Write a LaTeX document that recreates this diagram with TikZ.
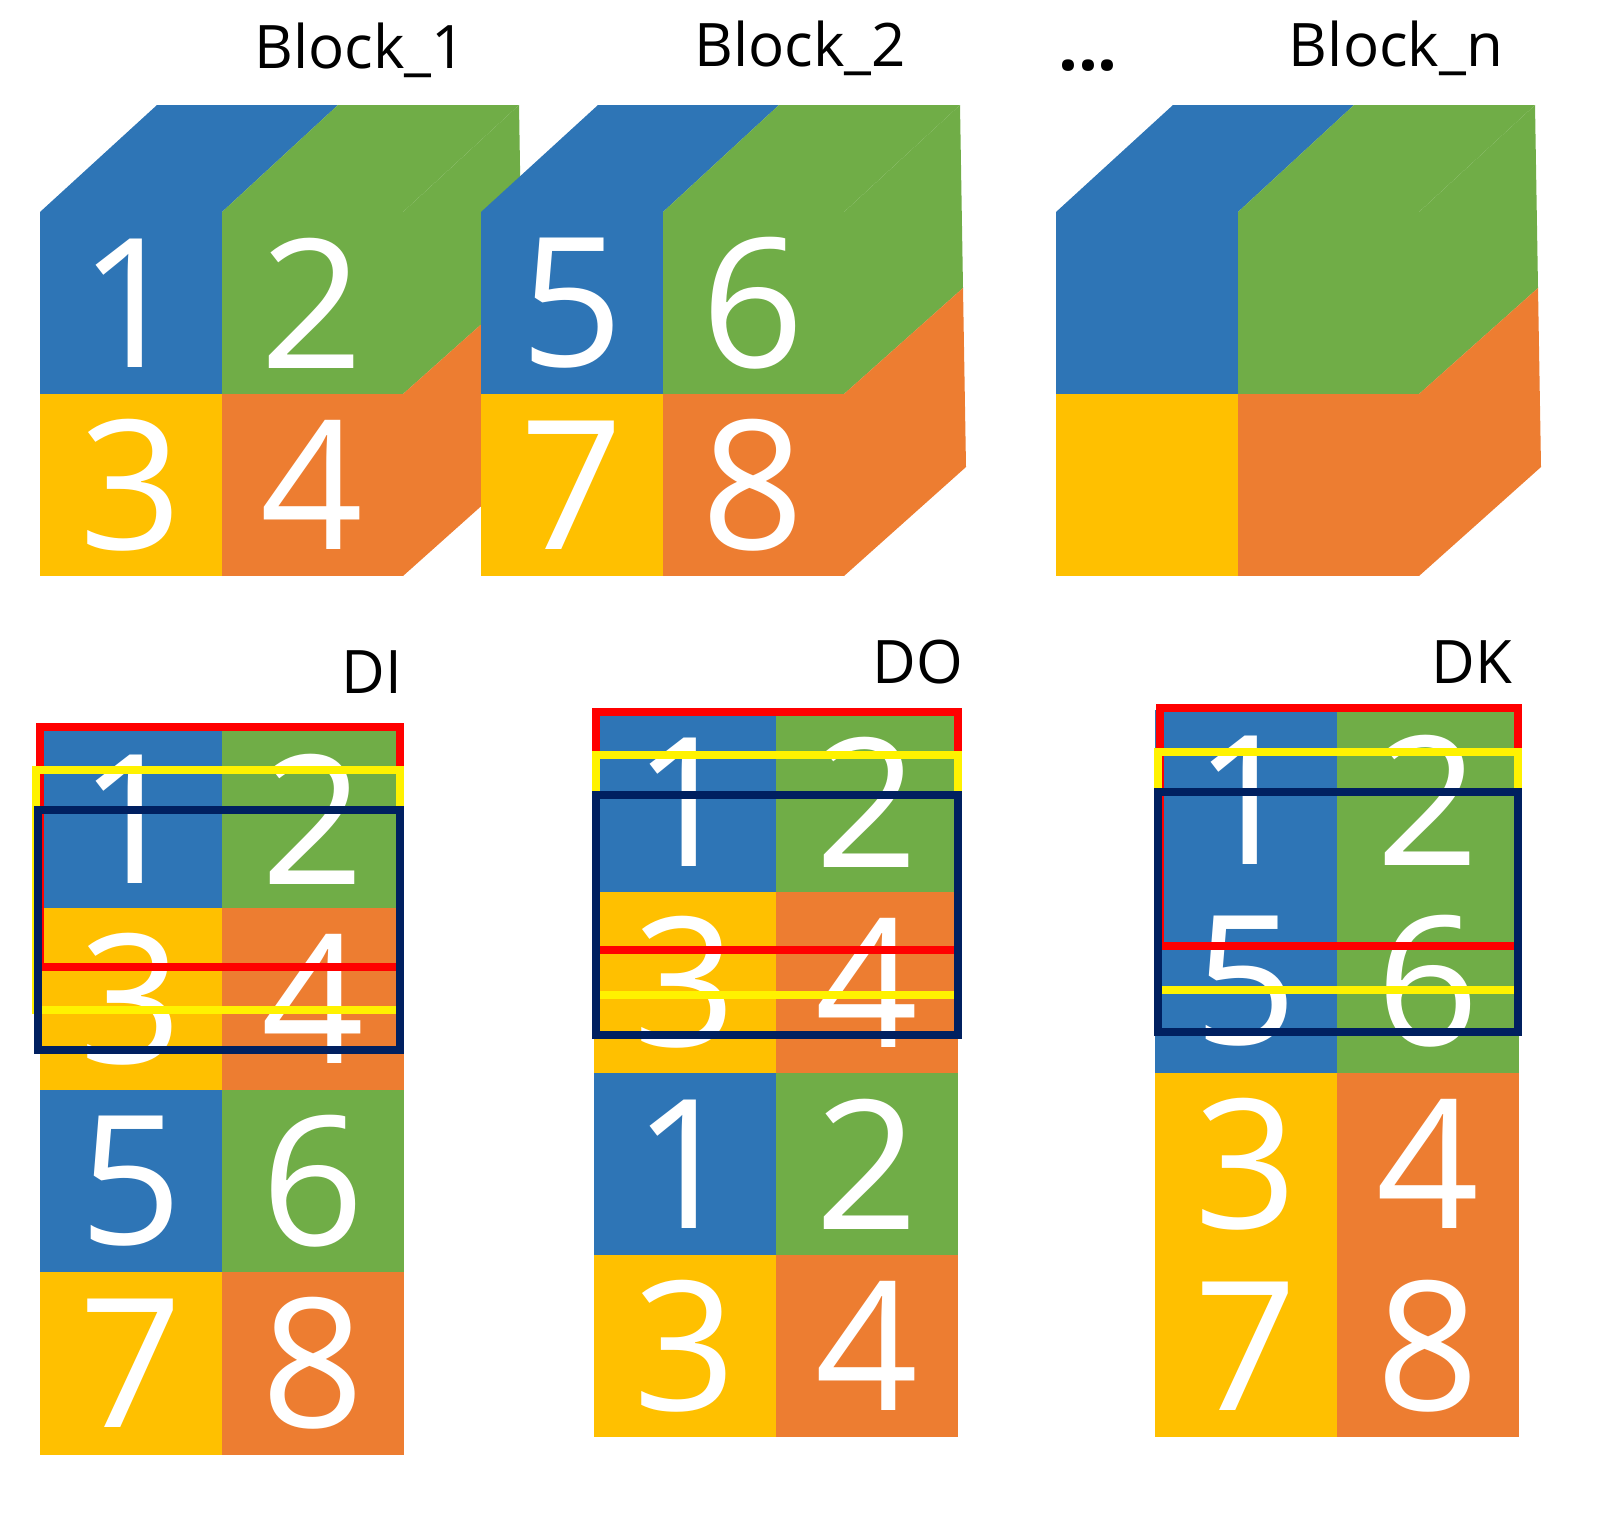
\documentclass[tikz,border=0pt]{standalone}
\usepackage{fontspec}
\setmainfont{Open Sans}
\begin{document}
\begin{tikzpicture}[x=1pt,y=-1pt,
  dig/.style={text=white,font=\fontsize{180}{180}\selectfont,inner sep=0pt},
  lbl/.style={font=\fontsize{60}{60}\selectfont,inner sep=0pt},
  fr/.style={line width=8pt}]
\definecolor{cb}{HTML}{2E75B6}\definecolor{cg}{HTML}{70AD47}
\definecolor{cy}{HTML}{FFC000}\definecolor{co}{HTML}{ED7D31}
\definecolor{nv}{HTML}{002060}
\useasboundingbox (0,0) rectangle (1600,1513);
% cubes
\foreach \dx/\a/\b/\c/\d/\rx in {0/1/2/3/4/519, 441/5/6/7/8/963, 1016//// /1538}{
  \begin{scope}[xshift=\dx]
  \fill[cg] (403,212) -- (519,105) -- (522,288) -- (403,394) -- cycle;
  \fill[co] (403,394) -- (522,288) -- (525,467) -- (403,576) -- cycle;
  \fill[cb] (40,212) -- (157,105) -- (338,105) -- (222,212) -- cycle;
  \fill[cg] (222,212) -- (338,105) -- (519,105) -- (403,212) -- cycle;
  \fill[cb] (40,212) rectangle (222,394);
  \fill[cg] (222,212) rectangle (403,394);
  \fill[cy] (40,394) rectangle (222,576);
  \fill[co] (222,394) rectangle (403,576);
  \node[dig] (t\dx a) at (131,303) {\a};
  \node[dig] (t\dx b) at (312,303) {\b};
  \node[dig] (t\dx c) at (131,485) {\c};
  \node[dig] (t\dx d) at (312,485) {\d};
  \end{scope}}
\node[lbl] (b1) at (360,50) {Block\_1};
\node[lbl] (b2) at (800,48) {Block\_2};
\node[lbl,font=\fontsize{70}{70}\selectfont\bfseries,anchor=base] (dots) at (1088,70) {...};
\node[lbl] (bn) at (1396,48) {Block\_n};
% columns
\newcommand{\cellpair}[7]{% x0 y0 h col1 col2 d1 d2
  \fill[#4] (#1,#2) rectangle ++(182,#3);
  \fill[#5] (#1+182,#2) rectangle ++(182,#3);
  \node[dig] at (#1+91,#2+0.5*#3) {#6};
  \node[dig] at (#1+273,#2+0.5*#3) {#7};}
% DI
\cellpair{40}{730}{178}{cb}{cg}{1}{2}
\cellpair{40}{908}{182}{cy}{co}{3}{4}
\cellpair{40}{1090}{182}{cb}{cg}{5}{6}
\cellpair{40}{1272}{183}{cy}{co}{7}{8}
\draw[fr,red] (40,727) rectangle (400,967);
\draw[fr,yellow] (36,770) rectangle (400,1010);
\draw[fr,nv] (38,810) rectangle (400,1050);
\node[lbl] (di) at (372,672) {DI};
% DO
\cellpair{594}{712}{180}{cb}{cg}{1}{2}
\cellpair{594}{892}{181}{cy}{co}{3}{4}
\cellpair{594}{1073}{182}{cb}{cg}{1}{2}
\cellpair{594}{1255}{182}{cy}{co}{3}{4}
\draw[fr,red] (596,712) rectangle (958,950);
\draw[fr,yellow] (596,755) rectangle (958,995);
\draw[fr,nv] (596,795) rectangle (958,1035);
\node[lbl] (do) at (918,662) {DO};
% DK
\cellpair{1155}{710}{180}{cb}{cg}{1}{2}
\cellpair{1155}{890}{183}{cb}{cg}{5}{6}
\cellpair{1155}{1073}{182}{cy}{co}{3}{4}
\cellpair{1155}{1255}{182}{cy}{co}{7}{8}
\draw[fr,red] (1160,708) rectangle (1518,946);
\draw[fr,yellow] (1158,752) rectangle (1518,990);
\draw[fr,nv] (1158,792) rectangle (1518,1032);
\node[lbl] (dk) at (1472,662) {DK};
\end{tikzpicture}
\end{document}
